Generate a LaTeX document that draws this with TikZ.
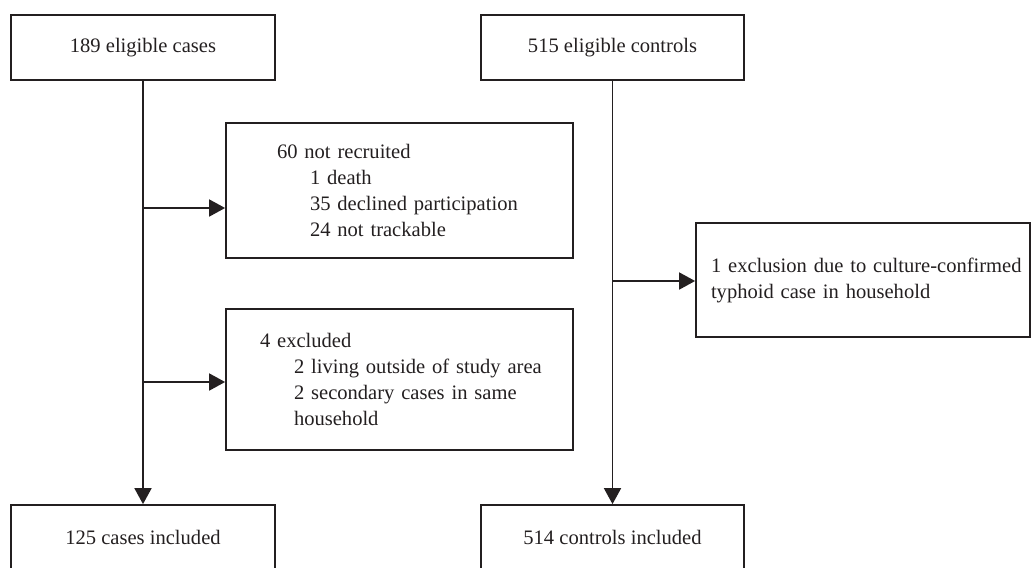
\documentclass[tikz,border=0pt]{standalone}
\usepackage{fontspec}
\setmainfont{Liberation Serif}
\usetikzlibrary{arrows.meta}
\definecolor{inkdark}{HTML}{231F20}

\begin{document}
\begin{tikzpicture}[
  box/.style={draw=inkdark, line width=1pt, text=inkdark, inner sep=0pt,
    font=\fontsize{11.7}{14.8}\selectfont},
  flow/.style={draw=inkdark, line width=1pt, -{Triangle[length=0.32cm,width=0.34cm]}},
]
\useasboundingbox (0,0) rectangle (20.62,-11.34);
\clip (0,0) rectangle (20.62,-11.34);

% Eligible cases and controls
\node[box, minimum width=5.28cm, minimum height=1.3cm] (cases) at (2.86,-0.95) {189 eligible cases};
\node[box, minimum width=5.26cm, minimum height=1.3cm] (controls) at (12.25,-0.95) {515 eligible controls};

% Exclusions on the case side
\node[box, text width=6.94cm, minimum height=2.7cm, align=left] (notrec) at (7.99,-3.81)
  {\hspace*{1.02cm}60 not recruited\\
   \hspace*{1.68cm}1 death\\
   \hspace*{1.68cm}35 declined participation\\
   \hspace*{1.68cm}24 not trackable};
\node[box, text width=6.94cm, minimum height=2.82cm, align=left] (excl) at (7.99,-7.59)
  {\hspace*{0.68cm}4 excluded\\
   \hspace*{1.36cm}2 living outside of study area\\
   \hspace*{1.36cm}2 secondary cases in same\\
   \hspace*{1.36cm}household};

% Exclusion on the control side
\node[box, text width=6.68cm, minimum height=2.28cm, align=left] (hhexcl) at (17.26,-5.6)
  {\hspace*{0.3cm}1 exclusion due to culture-confirmed\\
   \hspace*{0.3cm}typhoid case in household};

% Included
\node[box, minimum width=5.28cm, minimum height=1.28cm] (casesinc) at (2.86,-10.74) {125 cases included};
\node[box, minimum width=5.26cm, minimum height=1.28cm] (ctrlinc) at (12.25,-10.74) {514 controls included};

% Main flow
\draw[flow] (cases) -- (casesinc);
\draw[flow] (controls) -- (ctrlinc);

% Branches off the main flow
\coordinate (b1) at (2.86,-4.16);
\coordinate (b2) at (2.86,-7.64);
\coordinate (b3) at (12.25,-5.62);
\draw[flow] (b1) -- (b1 -| notrec.west);
\draw[flow] (b2) -- (b2 -| excl.west);
\draw[flow] (b3) -- (b3 -| hhexcl.west);

\end{tikzpicture}
\end{document}
